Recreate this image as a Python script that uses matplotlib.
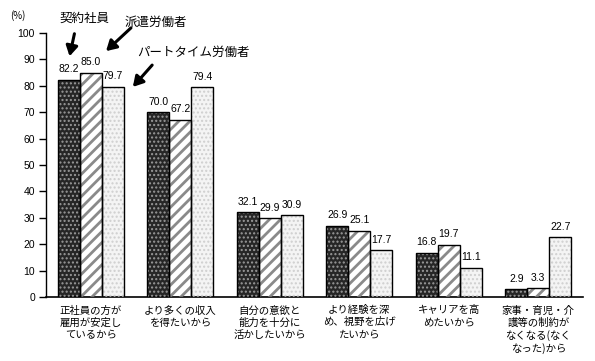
import matplotlib
matplotlib.use("Agg")
import matplotlib.pyplot as plt
import numpy as np

plt.rcParams['font.family'] = ['Noto Sans CJK JP', 'DejaVu Sans']
plt.rcParams['hatch.linewidth'] = 2.0

categories = ["正社員の方が\n雇用が安定し\nているから",
              "より多くの収入\nを得たいから",
              "自分の意欲と\n能力を十分に\n活かしたいから",
              "より経験を深\nめ、視野を広げ\nたいから",
              "キャリアを高\nめたいから",
              "家事・育児・介\n護等の制約が\nなくなる(なく\nなった)から"]
series_names = ["契約社員", "派遣労働者", "パートタイム労働者"]
keiyaku = [82.2, 70.0, 32.1, 26.9, 16.8, 2.9]
haken = [85.0, 67.2, 29.9, 25.1, 19.7, 3.3]
part = [79.7, 79.4, 30.9, 17.7, 11.1, 22.7]
yticks = [0, 10, 20, 30, 40, 50, 60, 70, 80, 90, 100]

fig = plt.figure(figsize=(5.95, 3.61), dpi=100)
ax = fig.add_axes([46/595, 1-297/361, (583-46)/595, (297-33)/361])

x = np.arange(len(categories)) + 0.5
w = 0.245
styles = [
    dict(face='#262626', hatch='....', hcolor='#9a9a9a', lw=1.0),
    dict(face='white', hatch='///', hcolor='#8a8a8a', lw=2.0),
    dict(face='#f4f4f4', hatch='....', hcolor='#cfcfcf', lw=1.0),
]
data = [keiyaku, haken, part]
for i, (vals, st) in enumerate(zip(data, styles)):
    pos = x + (i - 1) * w
    ax.bar(pos, vals, w, color=st['face'], edgecolor='none', linewidth=0, zorder=2)
    with plt.rc_context({'hatch.linewidth': st['lw']}):
        ax.bar(pos, vals, w, color='none', edgecolor=st['hcolor'], hatch=st['hatch'], linewidth=0, zorder=3)
    ax.bar(pos, vals, w, color='none', edgecolor='black', linewidth=1.0, zorder=4)
    for px, v in zip(pos, vals):
        ax.annotate(f"{v:.1f}", (px, v), xytext=(0, 4), textcoords='offset points',
                    ha='center', va='bottom', fontsize=7.5, family=['Liberation Sans'])

ax.set_xlim(0, len(categories))
ax.set_ylim(0, 100)
ax.set_yticks(yticks)
ax.set_yticklabels([str(t) for t in yticks], fontsize=7.5, family=['Liberation Sans'])
ax.set_xticks(x)
ax.set_xticklabels(categories, fontsize=7.5, linespacing=1.25, va='top')
ax.tick_params(axis='x', length=0, pad=6)
ax.tick_params(axis='y', direction='out', length=5, width=1, pad=3)
ax.spines['top'].set_visible(False)
ax.spines['right'].set_visible(False)
ax.spines['left'].set_linewidth(1.0)
ax.spines['bottom'].set_linewidth(1.2)

fig.text(10/595, 1-16/361, "(%)", fontsize=7, ha='left', va='center')

# legend labels with arrows (figure pixel coordinates)
def fpx(px, py):
    return (px/595, 1-py/361)

ann = [
    (series_names[0], (59, 18), (75, 31), (69, 59)),
    (series_names[1], (125, 22), (133, 26), (104, 53)),
    (series_names[2], (137, 52), (154, 63), (131, 89)),
]
for name, tpos, a0, a1 in ann:
    fig.text(*fpx(*tpos), name, fontsize=9, ha='left', va='center')
    fig.add_artist(matplotlib.patches.FancyArrowPatch(
        fpx(*a0), fpx(*a1), transform=fig.transFigure,
        arrowstyle='-|>,head_length=6,head_width=3.5', mutation_scale=1,
        linewidth=2.2, color='black'))

fig.savefig("out.png", dpi=100)
